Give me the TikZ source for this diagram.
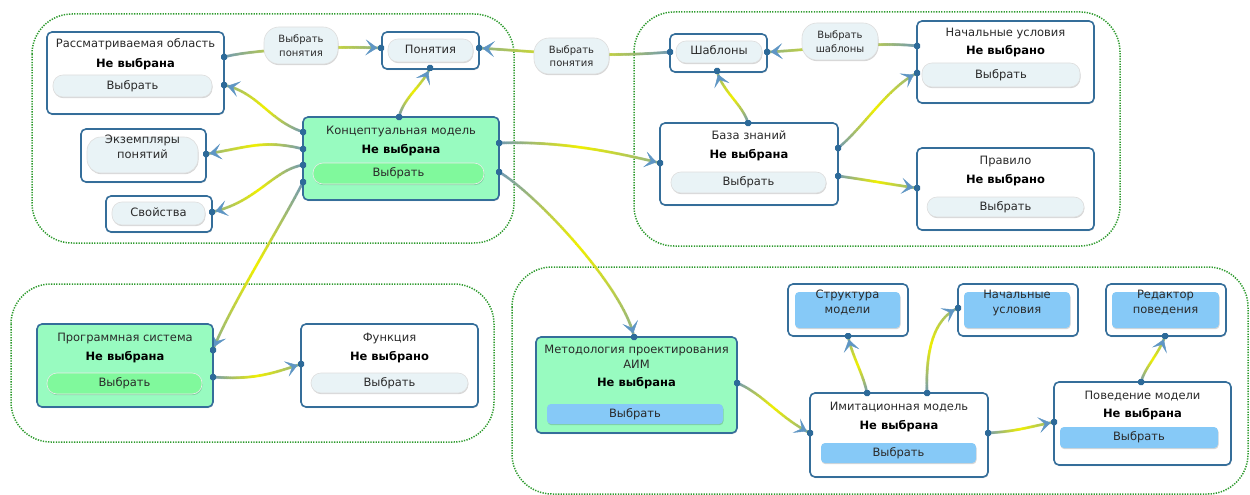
\documentclass[tikz,border=0pt]{standalone}
\usepackage{fontspec}
\setmainfont{DejaVu Sans}
\usetikzlibrary{arrows.meta,decorations.markings,shadows}

\definecolor{cardblue}{HTML}{356E9A}
\definecolor{dotblue}{HTML}{2D6A99}
\definecolor{mint}{HTML}{98FBC0}
\definecolor{mintbtn}{HTML}{80F99C}
\definecolor{pillgray}{HTML}{E9F3F6}
\definecolor{skybtn}{HTML}{86C9F7}
\definecolor{grpgreen}{HTML}{2E9B2E}
\definecolor{tipblue}{HTML}{5F96C4}
\definecolor{gB}{HTML}{6F99B6}
\definecolor{gY}{HTML}{F0F000}
\definecolor{gG}{HTML}{8DB08A}
\definecolor{ink}{HTML}{2A2A2A}

\newcommand\fT{\fontsize{11.5}{14}\selectfont}
\newcommand\fS{\fontsize{10}{13.5}\selectfont}

% one dab of a colour-graded connector stroke
\newcommand\gradstroke{%
  \pgfmathsetmacro\gpos{\pgfkeysvalueof{/pgf/decoration/mark info/distance from start}/\pgfdecoratedpathlength}%
  \ifdim\gpos pt<0.5pt
    \pgfmathtruncatemacro\gmix{200*\gpos}%
    \colorlet{gcur}{gY!\gmix!gB}%
  \else
    \pgfmathtruncatemacro\gmix{200*\gpos-100}%
    \colorlet{gcur}{gG!\gmix!gY}%
  \fi
  \fill[gcur] (0,0) circle[radius=1.5pt];%
}

\tikzset{
  softshadow/.style={drop shadow={shadow xshift=0.5pt, shadow yshift=-1.2pt,
      opacity=0.16, fill=black}},
  card/.style={draw=cardblue, line width=1.6pt, fill=white, rounded corners=5pt,
      inner sep=0pt, softshadow},
  greencard/.style={card, fill=mint},
  txt/.style={inner sep=0pt, text height=8.5pt, text depth=2.5pt, font=\fT, text=ink},
  stat/.style={txt, font=\fT\bfseries, text=black},
  pill/.style={txt, fill=pillgray, draw=black!13, line width=0.6pt,
      rounded corners=10pt, softshadow},
  greenpill/.style={pill, fill=mintbtn, draw=black!8},
  bluebtn/.style={txt, fill=skybtn, rounded corners=4pt, softshadow},
  twoline/.style={inner sep=0pt, align=center, font=\fontsize{11.5}{15}\selectfont, text=ink},
  lbl/.style={inner sep=0pt, align=center, font=\fS, text=ink, fill=pillgray,
      draw=black!13, line width=0.6pt, rounded corners=15pt, softshadow},
  dot/.style={rectangle, rounded corners=1.5pt, fill=dotblue, minimum size=6pt, inner sep=0pt},
  grp/.style={draw=grpgreen, line width=1.5pt, dash pattern=on 1.3pt off 1.3pt,
      rounded corners=40pt},
  conn/.style={
    postaction={decorate, decoration={markings,
      mark=between positions 0 and 1 step 0.9pt with {\gradstroke}}},
    postaction={decorate, decoration={markings,
      mark=at position -3.5pt with {\arrow{Stealth[length=12pt,width=16pt,inset=6pt,color=tipblue]}}}}}
}

\begin{document}
\begin{tikzpicture}[x=1pt,y=-1pt]
\useasboundingbox (0,0) rectangle (1250,495);
\fill[white] (0,0) rectangle (1250,495);

% ---------- dotted groups
\draw[grp] (32,14) rectangle (514,243);
\draw[grp] (634,12) rectangle (1120,246);
\draw[grp] (11,284) rectangle (494,442);
\draw[grp] (512,267) rectangle (1248,494);

% ---------- connection ports (positions)
\coordinate (ra-o1) at (224,57);
\coordinate (ra-o2) at (224,85);
\coordinate (pn-l) at (381,48);
\coordinate (pn-r) at (479,48);
\coordinate (pn-d) at (430,68);
\coordinate (km-u) at (399,117);
\coordinate (km-l1) at (303,132);
\coordinate (km-l2) at (303,149);
\coordinate (km-l3) at (303,165);
\coordinate (km-l4) at (303,182);
\coordinate (km-r1) at (499,143);
\coordinate (km-r2) at (499,172);
\coordinate (ex-r) at (206,154);
\coordinate (sv-r) at (212,212);
\coordinate (sh-l) at (670,52);
\coordinate (sh-r) at (767,52);
\coordinate (sh-d) at (717,71);
\coordinate (nu-l1) at (917,46);
\coordinate (nu-l2) at (917,73);
\coordinate (bz-u) at (748,123);
\coordinate (bz-l) at (660,163);
\coordinate (bz-r1) at (838,148);
\coordinate (bz-r2) at (838,176);
\coordinate (pr-l) at (917,188);
\coordinate (ps-r1) at (213,350);
\coordinate (ps-r2) at (213,377);
\coordinate (fn-l) at (301,364);
\coordinate (mt-u) at (634,337);
\coordinate (mt-r) at (737,383);
\coordinate (st-d) at (848,336);
\coordinate (nu2-l) at (958,308);
\coordinate (rd-d) at (1165,336);
\coordinate (im-u1) at (867,393);
\coordinate (im-u2) at (927,393);
\coordinate (im-l) at (810,433);
\coordinate (im-r) at (988,433);
\coordinate (pv-u) at (1141,382);
\coordinate (pv-l) at (1054,422);

% ---------- connectors
\path[conn] (ra-o1) .. controls +(30,-8) and +(-45,-2) .. (pn-l);
\path[conn] (sh-l) .. controls +(-70,6) and +(60,4) .. (pn-r);
\path[conn] (km-u) .. controls +(5,-20) and +(-8,18) .. (pn-d);
\path[conn] (km-l1) .. controls +(-35,-12) and +(35,8) .. (ra-o2);
\path[conn] (km-l2) .. controls +(-40,-10) and +(40,-6) .. (ex-r);
\path[conn] (km-l3) .. controls +(-30,5) and +(45,-10) .. (sv-r);
\path[conn] (km-l4) .. controls +(-20,40) and +(15,-40) .. (ps-r1);
\path[conn] (km-r1) .. controls +(60,-2) and +(-50,-12) .. (bz-l);
\path[conn] (km-r2) .. controls +(35,20) and +(-10,-50) .. (mt-u);
\path[conn] (bz-u) .. controls +(-5,-18) and +(5,20) .. (sh-d);
\path[conn] (bz-r1) .. controls +(25,-20) and +(-30,15) .. (nu-l2);
\path[conn] (bz-r2) .. controls +(30,4) and +(-30,-4) .. (pr-l);
\path[conn] (nu-l1) .. controls +(-40,-5) and +(45,-2) .. (sh-r);
\path[conn] (ps-r2) .. controls +(40,3) and +(-30,10) .. (fn-l);
\path[conn] (mt-r) .. controls +(25,10) and +(-30,-15) .. (im-l);
\path[conn] (im-u1) .. controls +(-4,-20) and +(4,20) .. (st-d);
\path[conn] (im-u2) .. controls +(-2,-55) and +(-18,8) .. (nu2-l);
\path[conn] (im-r) .. controls +(30,-2) and +(-30,6) .. (pv-l);
\path[conn] (pv-u) .. controls +(4,-15) and +(-6,18) .. (rd-d);

% ---------- group: subject area
\node[card, minimum width=177pt, minimum height=82pt] (ra) at (135.5,73) {};
\node[txt] (ra-t) at (135.5,45) {Рассматриваемая область};
\node[stat] (ra-s) at (135.5,64) {Не выбрана};
\node[pill, minimum width=159pt, minimum height=22pt] (ra-b) at (132.5,86) {Выбрать};

\node[card, minimum width=97pt, minimum height=37pt] (pn) at (430.5,50.5) {};
\node[pill, minimum width=85pt, minimum height=23pt] (pn-b) at (430.5,50.5) {Понятия};

\node[greencard, minimum width=196pt, minimum height=83pt] (km) at (401,158.5) {};
\node[txt] (km-t) at (401,131) {Концептуальная модель};
\node[stat] (km-s) at (401,150) {Не выбрана};
\node[greenpill, minimum width=171pt, minimum height=21pt] (km-b) at (398.5,173.5) {Выбрать};

\node[card, minimum width=125pt, minimum height=53pt] (ex) at (143.5,155.5) {};
\node[pill, twoline, rounded corners=14pt, minimum width=111pt, minimum height=36pt] (ex-b) at (142.5,155) {Экземпляры\\понятий};

\node[card, minimum width=106pt, minimum height=36pt] (sv) at (159,214) {};
\node[pill, minimum width=93pt, minimum height=23pt] (sv-b) at (158.5,213.5) {Свойства};

% ---------- group: knowledge base
\node[card, minimum width=97pt, minimum height=38pt] (sh) at (718.5,53) {};
\node[pill, minimum width=86pt, minimum height=22pt] (sh-b) at (719,52) {Шаблоны};

\node[card, minimum width=177pt, minimum height=82pt] (nu) at (1005.5,62) {};
\node[txt] (nu-t) at (1005.5,34) {Начальные условия};
\node[stat] (nu-s) at (1005.5,52) {Не выбрано};
\node[pill, minimum width=158pt, minimum height=24pt] (nu-b) at (1001,75) {Выбрать};

\node[card, minimum width=178pt, minimum height=82pt] (bz) at (749,164) {};
\node[txt] (bz-t) at (749,136) {База знаний};
\node[stat] (bz-s) at (749,155) {Не выбрана};
\node[pill, minimum width=155pt, minimum height=21pt] (bz-b) at (748.5,182.5) {Выбрать};

\node[card, minimum width=177pt, minimum height=82pt] (pr) at (1005.5,189) {};
\node[txt] (pr-t) at (1005.5,161) {Правило};
\node[stat] (pr-s) at (1005.5,180) {Не выбрано};
\node[pill, minimum width=157pt, minimum height=20pt] (pr-b) at (1005.5,207) {Выбрать};

% ---------- group: software system
\node[greencard, minimum width=176pt, minimum height=83pt] (ps) at (125,365.5) {};
\node[txt] (ps-t) at (125,338) {Программная система};
\node[stat] (ps-s) at (125,357) {Не выбрана};
\node[greenpill, minimum width=155pt, minimum height=21pt] (ps-b) at (124.5,383.5) {Выбрать};

\node[card, minimum width=177pt, minimum height=83pt] (fn) at (389.5,365.5) {};
\node[txt] (fn-t) at (389.5,338) {Функция};
\node[stat] (fn-s) at (389.5,357) {Не выбрано};
\node[pill, minimum width=157pt, minimum height=20pt] (fn-b) at (389.5,383) {Выбрать};

% ---------- group: simulation model
\node[greencard, minimum width=201pt, minimum height=96pt] (mt) at (636.5,385) {};
\node[twoline] (mt-t) at (636.5,357) {Методология проектирования\\АИМ};
\node[stat] (mt-s) at (636.5,383) {Не выбрана};
\node[bluebtn, minimum width=176pt, minimum height=20pt] (mt-b) at (635,414) {Выбрать};

\node[card, minimum width=120pt, minimum height=52pt] (st) at (848,310) {};
\node[bluebtn, twoline, minimum width=105pt, minimum height=36pt] (st-b) at (847.5,310) {Структура\\модели};

\node[card, minimum width=120pt, minimum height=52pt] (nu2) at (1018,310) {};
\node[bluebtn, twoline, minimum width=106pt, minimum height=36pt] (nu2-b) at (1017,310) {Начальные\\условия};

\node[card, minimum width=120pt, minimum height=52pt] (rd) at (1166,310) {};
\node[bluebtn, twoline, minimum width=107pt, minimum height=36pt] (rd-b) at (1165.5,310) {Редактор\\поведения};

\node[card, minimum width=178pt, minimum height=84pt] (im) at (899,435) {};
\node[txt] (im-t) at (899,407) {Имитационная модель};
\node[stat] (im-s) at (899,426) {Не выбрана};
\node[bluebtn, minimum width=155pt, minimum height=20pt] (im-b) at (898.5,453) {Выбрать};

\node[card, minimum width=177pt, minimum height=83pt] (pv) at (1142.5,423.5) {};
\node[txt] (pv-t) at (1142.5,396) {Поведение модели};
\node[stat] (pv-s) at (1142.5,414) {Не выбрана};
\node[bluebtn, minimum width=158pt, minimum height=21pt] (pv-b) at (1139,437.5) {Выбрать};

% ---------- connector labels
\node[lbl, minimum width=74pt, minimum height=37pt] (lp1) at (301,45.5) {Выбрать\\понятия};
\node[lbl, minimum width=75pt, minimum height=36pt] (lp2) at (571.5,56) {Выбрать\\понятия};
\node[lbl, minimum width=76pt, minimum height=37pt] (lp3) at (840,41.5) {Выбрать\\шаблоны};

% ---------- port markers
\foreach \p in {ra-o1,ra-o2,pn-l,pn-r,pn-d,km-u,km-l1,km-l2,km-l3,km-l4,km-r1,km-r2,
    ex-r,sv-r,sh-l,sh-r,sh-d,nu-l1,nu-l2,bz-u,bz-l,bz-r1,bz-r2,pr-l,ps-r1,ps-r2,fn-l,
    mt-u,mt-r,st-d,nu2-l,rd-d,im-u1,im-u2,im-l,im-r,pv-u,pv-l}
  \node[dot] (\p-m) at (\p) {};
\end{tikzpicture}
\end{document}
